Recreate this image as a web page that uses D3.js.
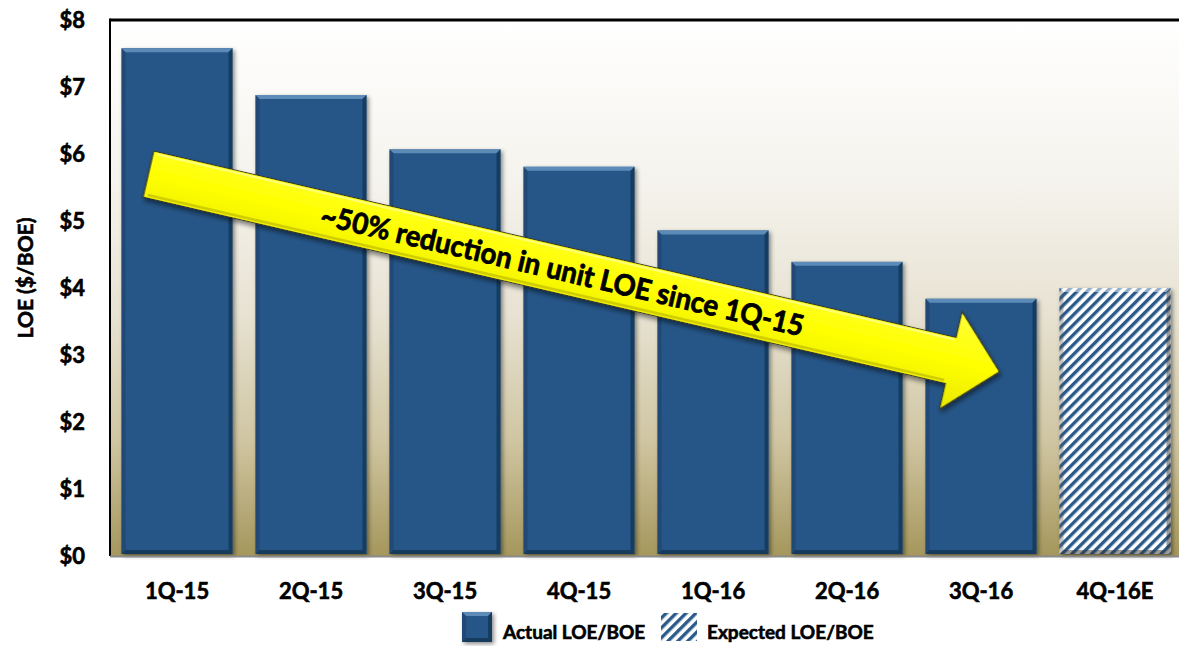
<!DOCTYPE html>
<html>
<head>
<meta charset="utf-8">
<script src="https://cdn.jsdelivr.net/npm/d3@7"></script>
<style>
  html, body { margin: 0; padding: 0; background: #ffffff; }
  svg { display: block; }
  text { font-family: Lato, "Open Sans", sans-serif; font-weight: 700; fill: #000; stroke: #000; stroke-width: 0.6px; }
</style>
</head>
<body>
<svg id="chart" width="1179" height="646"></svg>
<script>
// Quarterly unit lease operating expense ($ per BOE)
const categories = ["1Q-15", "2Q-15", "3Q-15", "4Q-15", "1Q-16", "2Q-16", "3Q-16", "4Q-16E"];
const actualValues = [7.58, 6.88, 6.07, 5.81, 4.86, 4.39, 3.84, null];
const expectedValues = [null, null, null, null, null, null, null, 4.00];
const tickValues = [0, 1, 2, 3, 4, 5, 6, 7, 8];
const legendLabels = ["Actual LOE/BOE", "Expected LOE/BOE"];
const yTitle = "LOE ($/BOE)";
const calloutText = "~50% reduction in unit LOE since 1Q-15";

const svg = d3.select("#chart");
const W = 1179, H = 646;
const plot = { left: 110, top: 20, right: 1182, bottom: 556 };

const x = d3.scaleBand(categories, [plot.left, plot.right])
  .paddingInner(0.1716).paddingOuter(0.0858);
const y = d3.scaleLinear([0, 8], [plot.bottom, plot.top]);

const defs = svg.append("defs");

// plot background: white fading to khaki at the floor
const bg = defs.append("linearGradient").attr("id", "bgGrad")
  .attr("x1", 0).attr("y1", 0).attr("x2", 0).attr("y2", 1);
[[0, "#ffffff"], [0.3, "#f5f3ed"], [0.55, "#e7e2d2"], [0.78, "#d0c6a3"], [1, "#a5975c"]]
  .forEach(([o, c]) => bg.append("stop").attr("offset", o).attr("stop-color", c));

// diagonal hatch for the expected bar
const hatch = defs.append("pattern").attr("id", "hatch")
  .attr("patternUnits", "userSpaceOnUse").attr("width", 7).attr("height", 7)
  .attr("patternTransform", "rotate(45)");
hatch.append("rect").attr("width", 7).attr("height", 7).attr("fill", "#ffffff");
hatch.append("rect").attr("width", 3.4).attr("height", 7).attr("fill", "#2a5a8a");

const shadow = defs.append("filter").attr("id", "shadow")
  .attr("x", "-10%").attr("y", "-10%").attr("width", "130%").attr("height", "130%");
shadow.append("feDropShadow").attr("dx", 2).attr("dy", 2)
  .attr("stdDeviation", 2).attr("flood-color", "#000").attr("flood-opacity", 0.45);

const arrowShadow = defs.append("filter").attr("id", "arrowShadow")
  .attr("x", "-10%").attr("y", "-30%").attr("width", "120%").attr("height", "160%");
arrowShadow.append("feDropShadow").attr("dx", 2).attr("dy", 3)
  .attr("stdDeviation", 2.5).attr("flood-color", "#000").attr("flood-opacity", 0.5);

// background
svg.append("rect")
  .attr("x", plot.left).attr("y", plot.top)
  .attr("width", W - plot.left).attr("height", plot.bottom - plot.top)
  .attr("fill", "url(#bgGrad)");

// bevelled bar drawing
function bevelBar(g, x0, y0, w, h, fill, edges) {
  const b = 4;
  g.append("rect").attr("x", x0).attr("y", y0).attr("width", w).attr("height", h)
    .attr("fill", fill);
  const x1 = x0 + w, y1 = y0 + h;
  const faces = [
    { pts: [[x0, y0], [x1, y0], [x1 - b, y0 + b], [x0 + b, y0 + b]], c: edges.top },
    { pts: [[x0, y0], [x0 + b, y0 + b], [x0 + b, y1 - b], [x0, y1]], c: edges.left },
    { pts: [[x1, y0], [x1, y1], [x1 - b, y1 - b], [x1 - b, y0 + b]], c: edges.right },
    { pts: [[x0, y1], [x0 + b, y1 - b], [x1 - b, y1 - b], [x1, y1]], c: edges.bottom }
  ];
  faces.forEach(f => g.append("polygon")
    .attr("points", f.pts.map(p => p.join(",")).join(" "))
    .attr("fill", f.c.color).attr("fill-opacity", f.c.op));
}

const solidEdges = {
  top: { color: "#6f9cc8", op: 0.75 },
  left: { color: "#1b3f66", op: 0.55 },
  right: { color: "#12304f", op: 0.7 },
  bottom: { color: "#12304f", op: 0.75 }
};
const hatchEdges = {
  top: { color: "#ffffff", op: 0.5 },
  left: { color: "#555555", op: 0.35 },
  right: { color: "#333333", op: 0.5 },
  bottom: { color: "#333333", op: 0.5 }
};

const bars = svg.append("g");
categories.forEach((c, i) => {
  const g = bars.append("g").attr("filter", "url(#shadow)");
  if (actualValues[i] != null) {
    const v = actualValues[i];
    bevelBar(g, x(c), y(v), x.bandwidth(), y(0) - y(v) - 2, "#275788", solidEdges);
  }
  if (expectedValues[i] != null) {
    const v = expectedValues[i];
    bevelBar(g, x(c), y(v), x.bandwidth(), y(0) - y(v) - 2, "url(#hatch)", hatchEdges);
  }
});

// frame lines
svg.append("line").attr("x1", plot.left).attr("x2", W)
  .attr("y1", plot.top).attr("y2", plot.top)
  .attr("stroke", "#000").attr("stroke-width", 3);
svg.append("line").attr("x1", plot.left).attr("x2", plot.left)
  .attr("y1", plot.top - 1.5).attr("y2", plot.bottom)
  .attr("stroke", "#000").attr("stroke-width", 2);
svg.append("line").attr("x1", plot.left).attr("x2", W)
  .attr("y1", plot.bottom + 0.5).attr("y2", plot.bottom + 0.5)
  .attr("stroke", "#8a8a8a").attr("stroke-width", 2);

// y axis
const yAxis = svg.append("g").attr("transform", `translate(${plot.left},0)`)
  .call(d3.axisLeft(y).tickValues(tickValues).tickFormat(d => "$" + d).tickSize(0).tickPadding(25));
yAxis.select(".domain").remove();
yAxis.selectAll("text").style("font-size", "22px").style("font-family", "Lato, sans-serif")
  .attr("fill", "#000");

svg.append("text")
  .attr("transform", `translate(33,${(plot.top + plot.bottom) / 2 - 10}) rotate(-90)`)
  .attr("text-anchor", "middle").style("font-size", "21px").text(yTitle);

// x axis
const xAxis = svg.append("g").attr("transform", `translate(0,${plot.bottom})`)
  .call(d3.axisBottom(x).tickSize(0).tickPadding(27));
xAxis.select(".domain").remove();
xAxis.selectAll("text").style("font-size", "22px").style("font-family", "Lato, sans-serif")
  .attr("fill", "#000");

// trend callout arrow, anchored on the first and seventh bars
const tail = [x("1Q-15") + 27, y(5.70)];
const tip = [x("3Q-16") + 74, y(2.75)];
const dx = tip[0] - tail[0], dy = tip[1] - tail[1];
const len = Math.hypot(dx, dy);
const ang = Math.atan2(dy, dx) * 180 / Math.PI;
const half = 23.5, headHalf = 50, headLen = 50;
const arrowPts = [
  [0, -half], [len - headLen, -half], [len - headLen, -headHalf], [len, 0],
  [len - headLen, headHalf], [len - headLen, half], [0, half]
];

const arrowG = svg.append("g")
  .attr("transform", `translate(${tail[0]},${tail[1]}) rotate(${ang})`);
const ag = defs.append("linearGradient").attr("id", "arrowGrad")
  .attr("gradientUnits", "userSpaceOnUse")
  .attr("x1", 0).attr("y1", -headHalf).attr("x2", 0).attr("y2", headHalf);
[[0, "#ffff3a"], [0.5, "#ffff00"], [1, "#e8e800"]]
  .forEach(([o, c]) => ag.append("stop").attr("offset", o).attr("stop-color", c));

arrowG.append("polygon")
  .attr("points", arrowPts.map(p => p.join(",")).join(" "))
  .attr("fill", "url(#arrowGrad)").attr("stroke", "#3a3a20").attr("stroke-width", 1.2)
  .attr("stroke-linejoin", "miter")
  .attr("filter", "url(#arrowShadow)");
// bevel highlights along the shaft
arrowG.append("polyline")
  .attr("points", [[4, half - 3], [len - headLen - 2, half - 3]].map(p => p.join(",")).join(" "))
  .attr("fill", "none").attr("stroke", "#b8b400").attr("stroke-width", 2.5).attr("stroke-opacity", 0.6);
arrowG.append("polyline")
  .attr("points", [[4, -half + 2.5], [len - headLen - 2, -half + 2.5]].map(p => p.join(",")).join(" "))
  .attr("fill", "none").attr("stroke", "#ffffa0").attr("stroke-width", 2).attr("stroke-opacity", 0.7);

arrowG.append("text")
  .attr("x", 425).attr("y", 0).attr("dy", "0.36em")
  .attr("text-anchor", "middle")
  .attr("textLength", 495).attr("lengthAdjust", "spacingAndGlyphs")
  .style("font-size", "29px").style("stroke-width", "0.8px").text(calloutText);

// legend
const legend = svg.append("g");
const sw1 = legend.append("g").attr("filter", "url(#shadow)");
bevelBar(sw1, 462, 612, 30, 30, "#275788", solidEdges);
legend.append("text").attr("x", 503).attr("y", 639)
  .style("font-size", "19px").text(legendLabels[0]);
const sw2 = legend.append("g");
sw2.append("rect").attr("x", 661).attr("y", 613).attr("width", 36).attr("height", 28)
  .attr("fill", "url(#hatch)");
legend.append("text").attr("x", 707).attr("y", 639)
  .style("font-size", "19px").text(legendLabels[1]);
</script>
</body>
</html>
